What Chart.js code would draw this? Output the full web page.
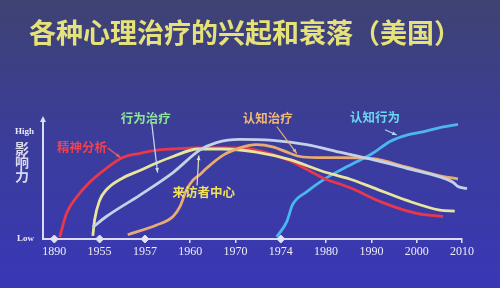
<!DOCTYPE html>
<html><head><meta charset="utf-8">
<script src="https://cdn.jsdelivr.net/npm/chart.js@4.4.1/dist/chart.umd.min.js"></script>
<style>html,body{margin:0;padding:0;background:#3b3c8c;overflow:hidden}#wrap{width:500px;height:288px}</style>
</head><body><div id="wrap"><canvas id="c" width="500" height="288"></canvas></div>
<script>
// ---- data ----
const titleText = '各种心理治疗的兴起和衰落（美国）';
const yAxisTitle = ['影', '响', '力'];
// x axis: evenly spaced positions, labelled with these years
const yearLabels = ['1890', '1955', '1957', '1960', '1970', '1974', '1980', '1990', '2000', '2010'];
const markedPositions = [0, 1, 2, 5];           // positions marked with a diamond
const yTickValues = [0, 100];
const yTickLabels = ['Low', 'High'];

// 精神分析 (psychoanalysis)
const psychoX = [0.12, 0.27, 0.49, 0.78, 1.15, 1.51, 1.89, 2.26, 2.62, 3.14, 4.10, 4.82, 5.20, 5.57, 5.93, 6.52, 7.25, 8.00, 8.58];
const psychoY = [2, 24, 39, 53, 66, 76, 80, 83, 84, 85, 85, 79, 73, 65, 57, 48, 34, 24, 21];
// pale yellow curve (behaviour therapy)
const behavX = [0.85, 0.89, 1.00, 1.15, 1.51, 1.89, 2.26, 2.62, 3.17, 3.72, 4.46, 5.20, 5.93, 6.52, 7.03, 7.78, 8.51, 8.84];
const behavY = [3, 18, 36, 46, 57, 64, 71, 77, 84, 84, 81, 74, 63, 56, 48, 36, 27, 26];
// pale blue curve (client-centred)
const clientX = [0.85, 1.15, 1.89, 2.62, 3.21, 3.58, 4.10, 4.82, 5.57, 6.30, 7.03, 7.78, 8.51, 8.80, 8.91, 9.11];
const clientY = [11, 21, 41, 62, 83, 90, 93, 92, 88, 81, 74, 66, 58, 53, 49, 47];
// orange curve (cognitive therapy)
const cogX = [1.62, 2.26, 2.62, 2.77, 2.92, 3.06, 3.21, 3.36, 3.72, 4.10, 4.46, 4.82, 5.20, 5.42, 5.79, 6.30, 7.03, 7.78, 8.51, 8.91];
const cogY = [4, 13, 21, 30, 46, 55, 60, 66, 78, 85, 88, 86, 80, 77, 76, 76, 75, 67, 59, 56];
// 认知行为 (cognitive behavioural)
const cbtX = [4.91, 5.13, 5.26, 5.57, 5.93, 6.30, 6.67, 7.03, 7.41, 7.78, 8.13, 8.51, 8.91];
const cbtY = [2, 16, 32, 44, 55, 64, 72, 80, 91, 97, 100, 104, 107];

// ---- annotations ----
const notes = [
  {text: '精神分析', color: '#f2404f', arrow: '#e85a66', at: [0.61, 86], from: [1.18, 85], to: [1.46, 76]},
  {text: '行为治疗', color: '#8fe59a', arrow: '#c8dce8', at: [2.02, 113], from: [2.15, 108], to: [2.28, 62]},
  {text: '认知治疗', color: '#f2b878', arrow: '#e6b27c', at: [4.71, 113], from: [4.91, 105], to: [5.35, 80]},
  {text: '来访者中心', color: '#f0e05a', arrow: '#dfe6b8', at: [3.30, 44], from: [3.15, 50], to: [3.19, 78]},
  {text: '认知行为', color: '#6cd6f0', arrow: '#a8d8ee', at: [7.08, 114], from: [7.30, 102], to: [7.56, 97]}
];

const pts = (xs, ys) => xs.map((x, i) => ({x, y: ys[i]}));
const lineDs = (label, xs, ys, color) => ({
  type: 'line', label, data: pts(xs, ys), borderColor: color, backgroundColor: color,
  borderWidth: 2.8, pointRadius: 0, fill: false, cubicInterpolationMode: 'monotone', clip: false
});

const bgPlugin = {
  id: 'bg',
  beforeDraw(chart) {
    const {ctx, width, height} = chart;
    const g = ctx.createLinearGradient(0, 0, 0, height);
    g.addColorStop(0, '#3f4272');
    g.addColorStop(0.45, '#3b3d98');
    g.addColorStop(1, '#3a37b6');
    ctx.save(); ctx.fillStyle = g; ctx.fillRect(0, 0, width, height); ctx.restore();
  }
};

function arrowLine(ctx, x1, y1, x2, y2, color) {
  ctx.strokeStyle = color; ctx.fillStyle = color; ctx.lineWidth = 1.2;
  ctx.beginPath(); ctx.moveTo(x1, y1); ctx.lineTo(x2, y2); ctx.stroke();
  const a = Math.atan2(y2 - y1, x2 - x1), h = 5;
  ctx.beginPath();
  ctx.moveTo(x2, y2);
  ctx.lineTo(x2 - h * Math.cos(a - 0.4), y2 - h * Math.sin(a - 0.4));
  ctx.lineTo(x2 - h * Math.cos(a + 0.4), y2 - h * Math.sin(a + 0.4));
  ctx.closePath(); ctx.fill();
}

const notesPlugin = {
  id: 'notes',
  afterDraw(chart) {
    const {ctx, chartArea, scales: {x, y}} = chart;
    ctx.save();
    // y-axis arrow head
    ctx.fillStyle = '#dcdcf4';
    ctx.beginPath();
    ctx.moveTo(chartArea.left, chartArea.top - 3);
    ctx.lineTo(chartArea.left - 3, chartArea.top + 3);
    ctx.lineTo(chartArea.left + 3, chartArea.top + 3);
    ctx.closePath(); ctx.fill();
    // vertical axis title (stacked characters)
    ctx.font = 'bold 14px "Noto Sans CJK SC"';
    ctx.fillStyle = '#d8d8ee'; ctx.textAlign = 'center'; ctx.textBaseline = 'middle';
    const yc = y.getPixelForValue(72);
    yAxisTitle.forEach((ch, i) => ctx.fillText(ch, chartArea.left - 21, yc + (i - 1) * 13.5));
    // labels & arrows
    ctx.font = 'bold 12.5px "Noto Sans CJK SC"';
    notes.forEach(n => {
      arrowLine(ctx, x.getPixelForValue(n.from[0]), y.getPixelForValue(n.from[1]),
                x.getPixelForValue(n.to[0]), y.getPixelForValue(n.to[1]), n.arrow);
      ctx.fillStyle = n.color;
      ctx.fillText(n.text, x.getPixelForValue(n.at[0]), y.getPixelForValue(n.at[1]));
    });
    ctx.restore();
  }
};

new Chart(document.getElementById('c'), {
  type: 'line',
  data: {
    datasets: [
      lineDs('来访者中心', clientX, clientY, '#c4d2e8'),
      lineDs('认知治疗', cogX, cogY, '#e8ab72'),
      lineDs('行为治疗', behavX, behavY, '#e8e69c'),
      lineDs('精神分析', psychoX, psychoY, '#e8384c'),
      lineDs('认知行为', cbtX, cbtY, '#4cb6ee'),
      {type: 'scatter', label: 'marks', data: markedPositions.map(p => ({x: p, y: 0})),
       pointStyle: 'rectRot', pointRadius: 4, backgroundColor: '#e2e2f2', borderColor: '#e2e2f2', clip: false, showLine: false}
    ]
  },
  options: {
    responsive: false, animation: false, devicePixelRatio: 1,
    layout: {padding: {left: 0, right: 10, top: 0, bottom: 0}},
    plugins: {
      legend: {display: false}, tooltip: {enabled: false},
      title: {display: true, text: titleText, color: '#e6e27a',
              font: {family: '"Noto Sans CJK SC"', size: 27, weight: 'bold'},
              padding: {top: 17, bottom: 69.6}}
    },
    scales: {
      x: {
        type: 'linear', min: -0.25, max: 9,
        afterBuildTicks: s => { s.ticks = yearLabels.map((_, i) => ({value: i})); },
        ticks: {callback: (v, i) => yearLabels[i], color: '#ececf8', autoSkip: false, maxRotation: 0,
                font: {family: '"Liberation Serif"', size: 12}, padding: 2},
        grid: {display: true, drawOnChartArea: false, drawTicks: true, tickLength: 4, lineWidth: 1.5,
               color: c => (c.tick && markedPositions.includes(c.tick.value)) ? 'rgba(0,0,0,0)' : '#dcdcf4'},
        border: {display: true, color: '#dcdcf4', width: 2},
        afterFit: s => { s.height = 49; }
      },
      y: {
        min: 0, max: 112,
        afterBuildTicks: s => { s.ticks = yTickValues.map(v => ({value: v})); },
        ticks: {callback: (v, i) => yTickLabels[i], color: '#e8e8f6',
                font: {family: '"Liberation Serif"', size: 9, weight: 'bold'}, padding: 9},
        grid: {display: false, drawTicks: false},
        border: {display: true, color: '#dcdcf4', width: 2},
        afterFit: s => { s.width = 43; }
      },
      y2: {
        position: 'right', display: true,
        grid: {display: false, drawTicks: false}, border: {display: false}, ticks: {display: false},
        afterFit: s => { s.width = 28; }
      }
    }
  },
  plugins: [bgPlugin, notesPlugin]
});
</script>
</body></html>
